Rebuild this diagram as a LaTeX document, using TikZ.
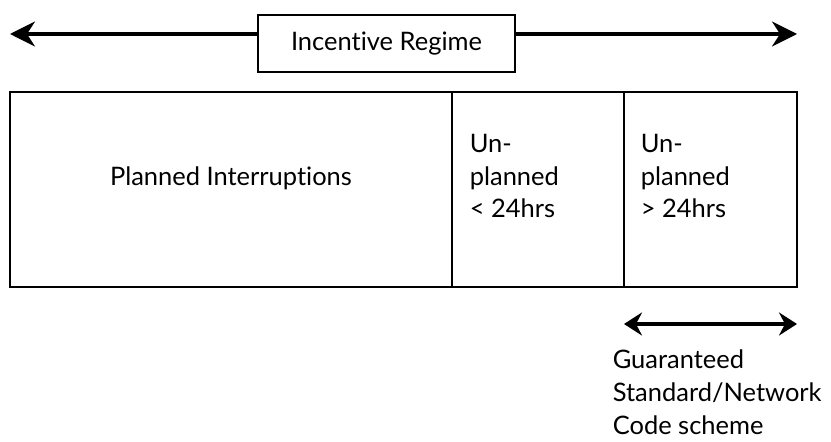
\documentclass[tikz,border=0pt]{standalone}
\usepackage{fontspec}
\setmainfont{Lato}[Ligatures={NoCommon,NoRare,NoDiscretionary}]
\usetikzlibrary{chains,arrows.meta,positioning}

\begin{document}
\begin{tikzpicture}[x=0.02cm,y=-0.02cm]
\tikzstyle{every path}=[line width=0.9pt]
\tikzstyle{every node}=[font=\fontsize{14.5}{18.7}\selectfont]

\tikzstyle{cell}=[draw,outer sep=0pt,minimum height=3.9cm,inner sep=0pt]
\tikzstyle{regime}=[line width=1.8pt,-{Stealth[length=0.5cm,width=0.5cm,inset=0.16cm]}]
\tikzstyle{scheme}=[line width=1.8pt,{Stealth[length=0.36cm,width=0.46cm,inset=0.12cm]}-{Stealth[length=0.36cm,width=0.46cm,inset=0.12cm]}]
\tikzstyle{label}=[align=left,anchor=west,inner sep=0pt]

\useasboundingbox (0,0) rectangle (831,442);

%% Incentive regime box and arrows
\node [draw,minimum width=5.14cm,minimum height=1.14cm,outer sep=0pt] (regime) at (386.5,43.5) {Incentive Regime};
\coordinate (rleft) at (10,34);
\coordinate (rright) at (797,34);
\draw [regime] (rleft -| regime.west) -- (rleft);
\draw [regime] (rright -| regime.east) -- (rright);

%% Interruption cells
\begin{scope}[start chain=1 going right,node distance=0pt]
    \node [on chain=1,cell,minimum width=8.84cm,anchor=north west] (planned) at (10,92) {};
    \node [on chain=1,cell,minimum width=3.44cm] (short) {};
    \node [on chain=1,cell,minimum width=3.46cm] (long) {};
\end{scope}

\node [label,anchor=center] (plannedtext) at ([yshift=0.22cm]planned.center) {Planned Interruptions};
\node [label] (shorttext) at (469,176) {Un-\\planned\\< 24hrs};
\node [label] (longtext) at (640,176) {Un-\\planned\\> 24hrs};

%% Guaranteed standard arrow
\coordinate (gsleft) at (624,324);
\coordinate (gsright) at (797,324);
\draw [scheme] (gsleft) -- (gsright);
\node [label] (gstext) at (612,392) {Guaranteed\\Standard/Network\\Code scheme};
\end{tikzpicture}
\end{document}
